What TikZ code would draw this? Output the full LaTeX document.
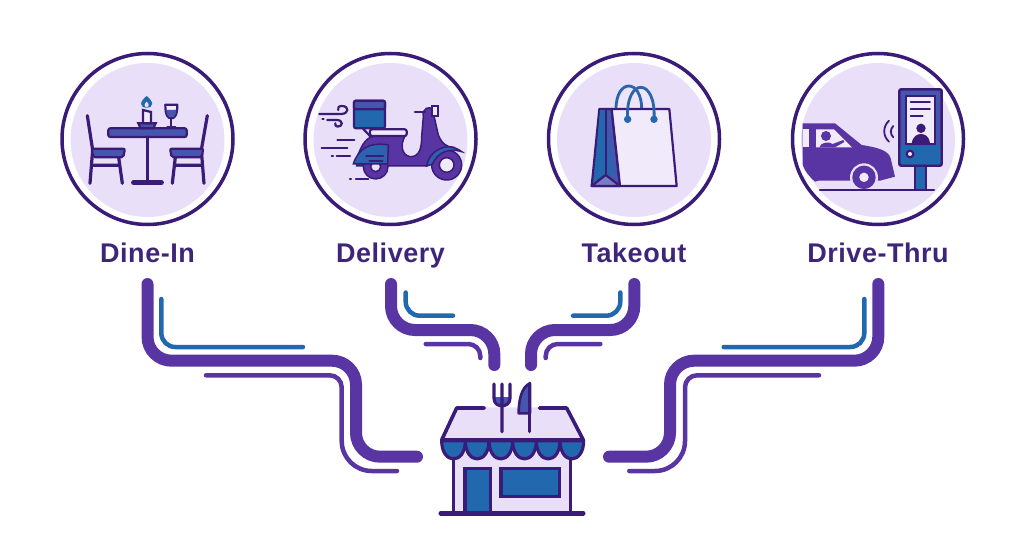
\documentclass[tikz,border=0pt]{standalone}
\usepackage{fontspec}
\newfontfamily\captionfont{Liberation Sans Bold}[LetterSpace=2]
\usetikzlibrary{positioning}
\definecolor{inkpurple}{HTML}{3A1C78}
\definecolor{wirepurple}{HTML}{5835A3}
\definecolor{wireblue}{HTML}{2268AE}
\definecolor{softblue}{HTML}{4656AE}
\definecolor{lavender}{HTML}{E9DFF8}
\definecolor{palelav}{HTML}{F1EAFB}
\definecolor{labelink}{HTML}{3F2579}
\tikzset{
  ringnode/.style={circle, draw=inkpurple, line width=3.5pt, minimum size=171pt, inner sep=0pt},
  disknode/.style={circle, fill=lavender, minimum size=154pt, inner sep=0pt},
  caption/.style={font=\captionfont\fontsize{27}{30}\selectfont, text=labelink, inner sep=0pt, text height=20pt, text depth=6pt},
  thickwire/.style={draw=wirepurple, line width=12pt, line cap=round, rounded corners=24pt},
  bluewire/.style={draw=wireblue, line width=4.5pt, line cap=round, rounded corners=14pt},
  thinwire/.style={draw=wirepurple, line width=4.5pt, line cap=round, rounded corners=12pt},
  ink/.style={draw=inkpurple, line width=2.6pt, line join=round, line cap=round},
  icon/.style={x=0.3333pt, y=-0.3333pt}
}
\begin{document}
\begin{tikzpicture}[x=1pt, y=-1pt]
  \useasboundingbox (0,0) rectangle (1024,559);

  % circles and their labels
  \node [disknode](dineinDisk) at (147.5,140) {};
  \node [ringnode](dinein) at (147.5,139) {};
  \node [disknode](deliveryDisk) at (390.5,140) {};
  \node [ringnode](delivery) at (390.5,139) {};
  \node [disknode](takeoutDisk) at (634,140) {};
  \node [ringnode](takeout) at (634,139) {};
  \node [disknode](drivethruDisk) at (878,140) {};
  \node [ringnode](drivethru) at (878,139) {};
  \node [caption, below=16.5pt of dinein](dineinLabel){Dine-In};
  \node [caption, below=16.5pt of delivery](deliveryLabel){Delivery};
  \node [caption, below=16.5pt of takeout](takeoutLabel){Takeout};
  \node [caption, below=16.5pt of drivethru](drivethruLabel){Drive-Thru};

  % free ends of the connectors
  \coordinate (dineinTop) at (147.5,284);
  \coordinate (dineinEnd) at (417,456.7);
  \coordinate (deliveryTop) at (391,284);
  \coordinate (deliveryEnd) at (494.3,365);
  \coordinate (takeoutTop) at (634.3,284);
  \coordinate (takeoutEnd) at (531,365);
  \coordinate (drivethruTop) at (878.3,284);
  \coordinate (drivethruEnd) at (609,456.7);

  % thick connectors
  \draw [thickwire] (dineinTop) |- (356,360.7) |- (dineinEnd);
  \draw [thickwire] (deliveryTop) |- (deliveryEnd |- 0,330) -- (deliveryEnd);
  \draw [thickwire] (takeoutTop) |- (takeoutEnd |- 0,330) -- (takeoutEnd);
  \draw [thickwire] (drivethruTop) |- (670,360.7) |- (drivethruEnd);

  % thin lines beside them
  \coordinate (dineinBlue) at (161.3,299);
  \coordinate (deliveryBlue) at (405.7,292.5);
  \coordinate (takeoutBlue) at (620.3,292.5);
  \coordinate (drivethruBlue) at (864.3,299);
  \draw [bluewire] (dineinBlue) |- (303,347);
  \draw [bluewire] (deliveryBlue) |- (453,315.7);
  \draw [bluewire] (takeoutBlue) |- (573,315.7);
  \draw [bluewire] (drivethruBlue) |- (723.7,347);
  \draw [thinwire] (206,375.3) -- (341.7,375.3) [rounded corners=30pt] -- (341.7,471) -- (397,471);
  \draw [thinwire] (425.7,344) -| (480.3,358);
  \draw [thinwire] (600.3,344) -| (545.7,358);
  \draw [thinwire] (819,375.3) -- (685,375.3) [rounded corners=30pt] -- (685,471) -- (629.3,471);

  % dine-in icon
  \begin{scope}[shift={(40,60)}, icon]
    \fill [softblue, draw=inkpurple, line width=2.2pt, rounded corners=2pt] (205,205) rectangle (440,231);
    \draw [ink, line width=3.4pt] (322,231) -- (322,365);
    \draw [ink, line width=4.4pt] (280,368) -- (365,368);
    \fill [softblue, draw=inkpurple, line width=2.2pt] (295,190) -- (347,190) -- (340,205) -- (302,205) -- cycle;
    \fill [palelav, draw=inkpurple, line width=2.2pt] (309,150) -- (333,156) -- (333,190) -- (309,190) -- cycle;
    \fill [wireblue] (320,108) .. controls (342,125) and (342,143) .. (320,143) .. controls (298,143) and (298,125) .. (320,108);
    \fill [lavender] (320,125) .. controls (328,132) and (328,141) .. (320,141) .. controls (312,141) and (312,132) .. (320,125);
    \draw [ink, line width=2.2pt, fill=palelav] (376,134) -- (412,134) .. controls (412,165) and (405,175) .. (394,175) .. controls (383,175) and (376,165) .. (376,134);
    \fill [softblue] (379,150) -- (409,150) .. controls (408,165) and (403,172) .. (394,172) .. controls (385,172) and (380,165) .. (379,150);
    \draw [ink, line width=2.2pt] (394,175) -- (394,200) (382,201) -- (406,201);
    % left chair
    \draw [ink, line width=3.2pt] (142,167) -- (158,270) -- (150,370);
    \draw [ink, line width=3.2pt] (236,292) -- (247,370) (160,316) -- (238,316);
    \fill [softblue, draw=inkpurple, line width=2.2pt, rounded corners=2pt] (155,266) -- (255,266) -- (250,292) -- (160,292) -- cycle;
    % right chair
    \draw [ink, line width=3.2pt] (502,167) -- (484,270) -- (492,370);
    \draw [ink, line width=3.2pt] (406,292) -- (397,370) (406,316) -- (484,316);
    \fill [softblue, draw=inkpurple, line width=2.2pt, rounded corners=2pt] (390,266) -- (490,266) -- (485,292) -- (395,292) -- cycle;
  \end{scope}

  % delivery icon
  \begin{scope}[shift={(290,60)}, icon]
    \draw [ink, line width=2.2pt] (218,205) -- (240,228);
    \fill [wireblue, draw=inkpurple, line width=2.2pt, rounded corners=2pt] (192,122) rectangle (285,205);
    \fill [softblue, draw=inkpurple, line width=2.2pt, rounded corners=2pt] (192,122) -- (285,122) -- (285,148) -- (192,148) -- cycle;
    \fill [wirepurple, draw=inkpurple, line width=1.5pt] (200,300) .. controls (215,245) and (235,228) .. (260,228) -- (345,228) .. controls (330,255) and (335,285) .. (360,290) .. controls (390,292) and (395,260) .. (395,230) -- (400,170) .. controls (395,145) and (420,135) .. (428,150) -- (445,225) .. controls (455,250) and (470,262) .. (490,262) -- (450,300) -- (410,318) -- (200,318) -- cycle;
    \fill [palelav, draw=inkpurple, line width=2.2pt, rounded corners=2pt] (240,208) rectangle (350,228);
    \draw [ink] (375,156) -- (405,156);
    \fill [palelav, draw=inkpurple, line width=2.2pt] (426,137) rectangle (445,168);
    \fill [wirepurple, draw=inkpurple, line width=1.5pt] (257,320) circle (12.3pt);
    \fill [lavender, draw=inkpurple, line width=1.5pt] (257,320) circle (5pt);
    \fill [wirepurple, draw=inkpurple, line width=1.5pt] (470,315) circle (15pt);
    \fill [palelav, draw=inkpurple, line width=1.5pt] (470,315) circle (7.3pt);
    \fill [wireblue!70!softblue, draw=inkpurple, line width=1.5pt] (190,312) .. controls (205,265) and (240,245) .. (295,255) -- (293,312) -- cycle;
    \fill [wireblue!70!softblue, draw=inkpurple, line width=1.5pt] (410,318) .. controls (415,275) and (470,240) .. (515,275) .. controls (475,262) and (440,280) .. (428,312) -- cycle;
    \draw [ink, line width=1.6pt] (228,288) -- (280,288) (238,303) -- (278,303);
    \draw [ink, line width=2.2pt] (88,162) -- (155,162) .. controls (178,160) and (178,138) .. (155,138) .. controls (145,138) and (142,145) .. (145,150);
    \draw [ink, line width=2.2pt] (112,180) -- (140,180) .. controls (160,180) and (160,200) .. (143,200) .. controls (137,200) and (134,195) .. (136,190);
    \draw [ink, line width=2.2pt] (97,178) -- (101,178) (142,241) -- (193,241) (95,263) -- (172,263) (125,287) -- (129,287) (140,287) -- (180,287) (180,356) -- (183,356) (198,356) -- (235,356);
  \end{scope}

  % takeout icon
  \begin{scope}[shift={(540,60)}, icon]
    \fill [palelav!60!lavender] (235,147) .. controls (235,60) and (335,60) .. (335,147) -- cycle;
    \draw [wireblue!80!softblue, line width=2.8pt] (228,147) .. controls (228,55) and (305,55) .. (305,147);
    \fill [softblue, draw=inkpurple, line width=2.2pt, line join=round] (178,147) -- (215,147) -- (240,378) -- (155,378) -- cycle;
    \fill [wireblue] (180,150) -- (196,150) -- (196,345) -- (162,370) -- cycle;
    \fill [wireblue!70!softblue] (200,200) -- (225,345) -- (200,345) -- cycle;
    \fill [palelav, draw=inkpurple, line width=2.2pt, line join=round] (215,147) -- (388,147) -- (410,378) -- (240,378) -- cycle;
    \fill [softblue!70!lavender, draw=inkpurple, line width=2.2pt, line join=round] (155,378) -- (197,345) -- (240,378) -- cycle;
    \draw [ink, line width=2.2pt] (197,148) -- (197,345);
    \draw [wireblue!80!softblue, line width=2.8pt] (263,178) .. controls (255,50) and (350,50) .. (342,178);
    \fill [wireblue] (263,178) circle (3.7pt) (342,178) circle (3.7pt);
  \end{scope}

  % drive-thru icon
  \begin{scope}[shift={(780,60)}, icon]
    \fill [wirepurple] (68,190) -- (165,190) -- (245,255) .. controls (290,262) and (325,270) .. (332,295) -- (345,350) -- (300,362) -- (115,362) -- (105,365) .. controls (88,350) and (75,335) .. (68,315) -- cycle;
    \fill [palelav] (68,208) -- (88,208) -- (88,262) -- (68,262) -- cycle;
    \fill [palelav] (108,208) -- (162,208) -- (216,262) -- (108,262) -- cycle;
    \fill [wirepurple] (138,228) circle (5pt);
    \fill [wirepurple] (118,262) .. controls (122,245) and (150,245) .. (158,252) -- (190,240) -- (193,246) -- (165,262) -- cycle;
    \fill [lavender] (252,352) circle (14pt);
    \fill [wirepurple] (252,352) circle (11.7pt);
    \fill [palelav] (252,352) circle (4.7pt);
    \draw [ink, line width=2.2pt] (120,390) -- (462,390);
    \fill [wireblue, draw=inkpurple, line width=2.2pt] (405,317) rectangle (438,390);
    \fill [softblue, draw=inkpurple, line width=2.6pt, rounded corners=2pt] (358,88) rectangle (485,317);
    \fill [wireblue, rounded corners=1pt] (362,255) rectangle (481,313);
    \fill [palelav, draw=inkpurple, line width=1.5pt] (378,108) rectangle (465,252);
    \fill [palelav, draw=inkpurple, line width=2.2pt] (390,282) circle (3.3pt);
    \draw [ink, line width=1.8pt] (392,127) -- (450,127) (392,147) -- (450,147) (392,167) -- (428,167);
    \fill [inkpurple] (423,205) circle (4.7pt);
    \fill [inkpurple] (395,251) .. controls (398,228) and (412,222) .. (423,222) .. controls (434,222) and (448,228) .. (450,251) -- cycle;
    \draw [ink, line width=1.8pt] (327,182) .. controls (308,200) and (308,228) .. (327,245);
    \draw [ink, line width=1.8pt] (340,198) .. controls (330,208) and (330,222) .. (340,232);
  \end{scope}

  % shop icon
  \begin{scope}[shift={(420,370)}, icon]
    \fill [lavender] (100,250) rectangle (452,430);
    \fill [lavender] (110,112) -- (440,112) -- (490,210) -- (65,210) -- cycle;
    \draw [ink, line width=3.6pt] (193,114) -- (110,114) -- (65,210) -- (490,210) -- (440,114) -- (358,114);
    \draw [ink, line width=3.6pt] (100,250) -- (100,430) (452,250) -- (452,430);
    \foreach \k in {0,...,5}{
      \fill [wireblue, draw=inkpurple, line width=3.2pt, line join=round]
        (65+71*\k,212) .. controls (65+71*\k,285) and (136+71*\k,285) .. (136+71*\k,212) -- cycle;
    }
    \fill [wireblue, draw=inkpurple, line width=3.6pt] (135,295) rectangle (212,430);
    \fill [wireblue, draw=inkpurple, line width=3.6pt] (243,295) rectangle (418,380);
    \draw [inkpurple, line width=4.4pt, line cap=round] (62,430) -- (490,430);
    % fork and knife
    \fill [softblue] (225,80) .. controls (225,110) and (270,110) .. (270,80) -- cycle;
    \draw [ink, line width=3.2pt] (222,42) -- (222,85) .. controls (222,115) and (270,115) .. (270,85) -- (270,42) (246,42) -- (246,185);
    \fill [softblue, draw=inkpurple, line width=2.6pt, line join=round] (330,40) .. controls (305,50) and (296,90) .. (296,130) -- (330,130) -- cycle;
    \draw [ink, line width=3.2pt] (328,40) -- (328,185);
  \end{scope}
\end{tikzpicture}
\end{document}
